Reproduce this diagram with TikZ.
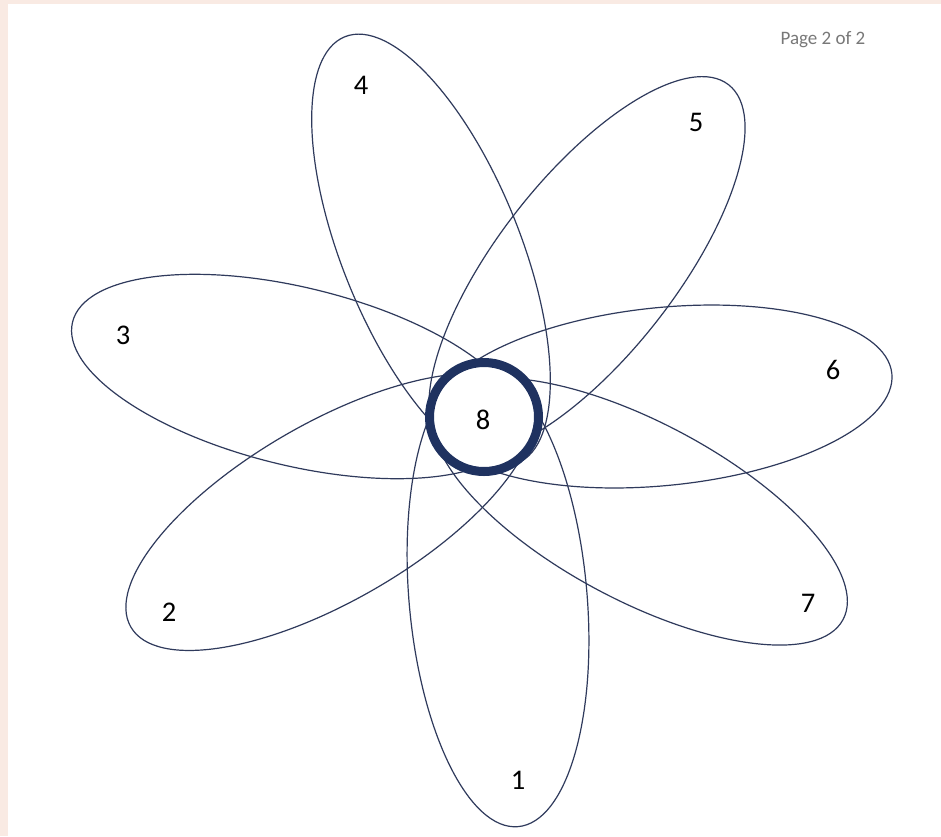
\documentclass[tikz,border=0pt]{standalone}
\usepackage{fontspec}
\setmainfont{Carlito}
\definecolor{pagebg}{RGB}{249,234,227}
\definecolor{petalline}{RGB}{47,58,92}
\definecolor{ringcol}{RGB}{31,50,96}
\definecolor{hdrgray}{RGB}{120,120,120}
\begin{document}
\begin{tikzpicture}[x=1pt,y=-1pt,
  petal/.style={draw=petalline,line width=1.2pt},
  lab/.style={font=\fontsize{28.5}{31}\selectfont,text=black,inner sep=0pt},
  ring/.style={draw=ringcol,line width=9pt,fill=white}]
\useasboundingbox (0,0) rectangle (941,836);
\fill[pagebg] (0,0) rectangle (941,836);
\fill[white] (8,4) rectangle (941,836);
% petals
\draw[petal,rotate around={-85:(498,597.5)}] (498,597.5) ellipse [x radius=230,y radius=89];
\draw[petal,rotate around={-150:(330,512)}] (330,512) ellipse [x radius=230,y radius=89];
\draw[petal,rotate around={-193.7:(296,376.5)}] (296,376.5) ellipse [x radius=230,y radius=89];
\draw[petal,rotate around={-248:(431,250)}] (431,250) ellipse [x radius=230,y radius=89];
\draw[petal,rotate around={-308:(587,266)}] (587,266) ellipse [x radius=230,y radius=89];
\draw[petal,rotate around={-354.3:(663,396.5)}] (663,396.5) ellipse [x radius=230,y radius=89];
\draw[petal,rotate around={-28:(640,511.5)}] (640,511.5) ellipse [x radius=230,y radius=89];
% centre ring
\draw[ring] (484,417) circle [radius=54.5];
% labels
\node[lab] (l1) at (518,780) {1};
\node[lab] (l2) at (169,612) {2};
\node[lab] (l3) at (123,335) {3};
\node[lab] (l4) at (361,85) {4};
\node[lab] (l5) at (696,122) {5};
\node[lab] (l6) at (833,370) {6};
\node[lab] (l7) at (808,603) {7};
\node[lab] (l8) at (483,420) {8};
\node[font=\fontsize{19}{22}\selectfont,text=hdrgray,anchor=base,inner sep=0pt] (hdr) at (823,44) {Page 2 of 2};
\end{tikzpicture}
\end{document}
